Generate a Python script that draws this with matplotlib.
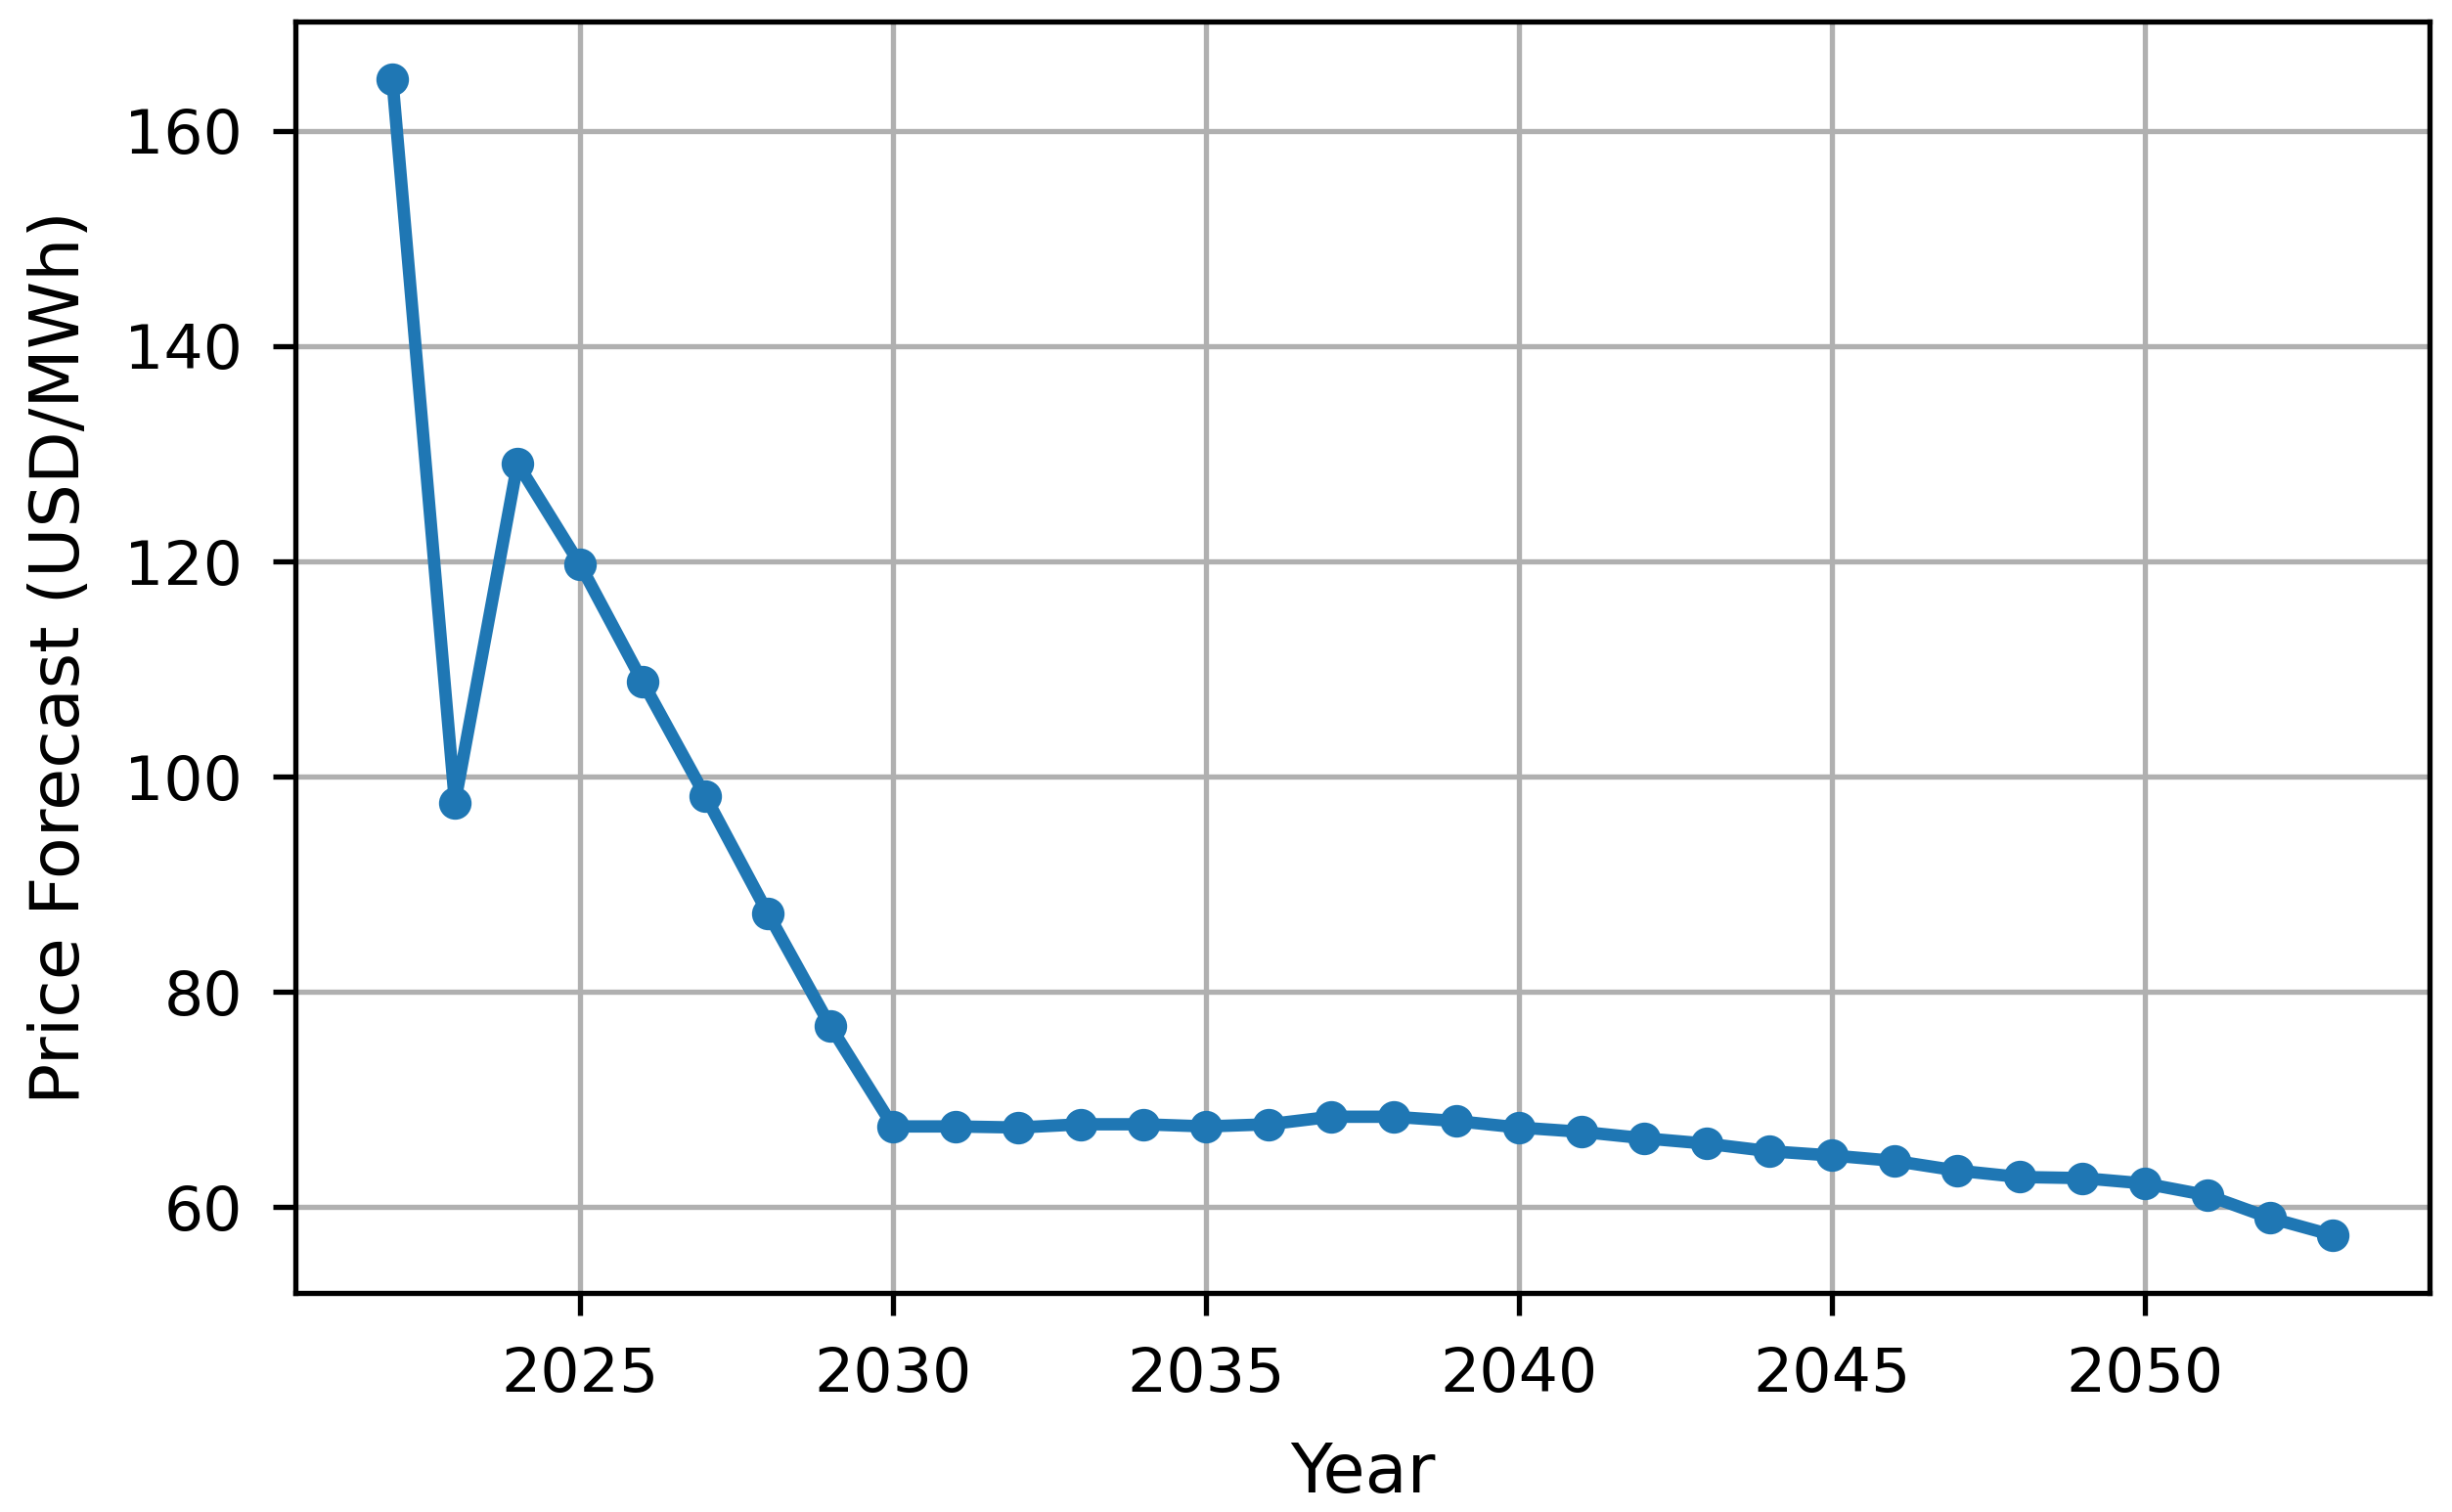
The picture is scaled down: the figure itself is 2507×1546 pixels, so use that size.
import matplotlib
matplotlib.use("Agg")
import matplotlib.pyplot as plt

# forecast years and prices
years = list(range(2022, 2054))
price = [164.8, 97.6, 129.1, 119.7, 108.8, 98.2, 87.3, 76.8, 67.5, 67.5,
         67.4, 67.7, 67.7, 67.5, 67.7, 68.4, 68.4, 68.0, 67.4, 67.0,
         66.4, 65.9, 65.2, 64.8, 64.3, 63.4, 62.8, 62.7, 62.2, 61.1,
         59.0, 57.4]

dpi = 480
fig = plt.figure(figsize=(2507 / dpi, 1546 / dpi), dpi=dpi)
ax = fig.add_axes([302 / 2507, 1 - 1322 / 1546, (2484 - 302) / 2507, (1322 - 22) / 1546])

ax.plot(years, price, marker='o', color='#1f77b4', linewidth=1.9, markersize=4)
ax.set_xlabel('Year', fontsize=10.5, labelpad=5.5)
ax.set_ylabel('Price Forecast (USD/MWh)', fontsize=10.5, labelpad=4.8)
ax.tick_params(labelsize=9.5, pad=4.6)
ax.grid(True)

fig.savefig('out.png', dpi=dpi)
